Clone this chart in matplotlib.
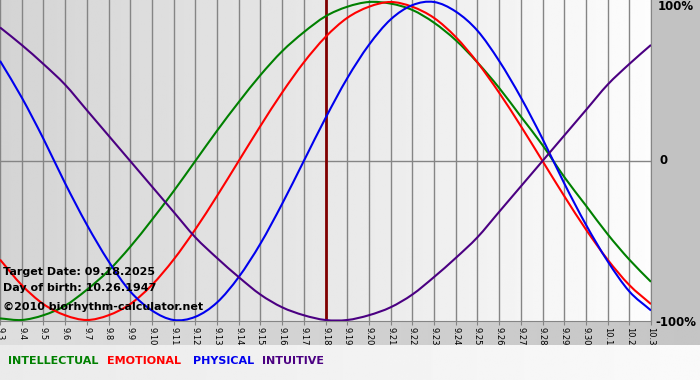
import matplotlib.pyplot as plt
import numpy as np
from matplotlib.path import Path
from matplotlib.patches import PathPatch

dates = ['9.3', '9.4', '9.5', '9.6', '9.7', '9.8', '9.9', '9.10', '9.11', '9.12',
         '9.13', '9.14', '9.15', '9.16', '9.17', '9.18', '9.19', '9.20', '9.21',
         '9.22', '9.23', '9.24', '9.25', '9.26', '9.27', '9.28', '9.29', '9.30',
         '10.1', '10.2', '10.3']
target_index = 15

intellectual = [-0.99, -1.00, -0.97, -0.91, -0.81, -0.69, -0.54, -0.37, -0.19, 0.00,
                0.19, 0.37, 0.54, 0.69, 0.81, 0.91, 0.97, 1.00, 0.99, 0.95, 0.87,
                0.76, 0.62, 0.46, 0.28, 0.10, -0.10, -0.28, -0.46, -0.62, -0.76]
emotional = [-0.62, -0.78, -0.90, -0.97, -1.00, -0.97, -0.90, -0.78, -0.62, -0.43,
             -0.22, 0.00, 0.22, 0.43, 0.62, 0.78, 0.90, 0.97, 1.00, 0.97, 0.90,
             0.78, 0.62, 0.43, 0.22, 0.00, -0.22, -0.43, -0.62, -0.78, -0.90]
physical = [0.63, 0.40, 0.14, -0.14, -0.40, -0.63, -0.82, -0.94, -1.00, -0.98, -0.89,
            -0.73, -0.52, -0.27, 0.00, 0.27, 0.52, 0.73, 0.89, 0.98, 1.00, 0.94,
            0.82, 0.63, 0.40, 0.14, -0.14, -0.40, -0.63, -0.82, -0.94]
intuitive = [0.84, 0.73, 0.61, 0.48, 0.32, 0.16, 0.00, -0.16, -0.32, -0.48, -0.61,
             -0.73, -0.84, -0.92, -0.97, -1.00, -1.00, -0.97, -0.92, -0.84, -0.73,
             -0.61, -0.48, -0.32, -0.16, 0.00, 0.16, 0.32, 0.48, 0.61, 0.73]

series = [('INTELLECTUAL', intellectual, '#008000'),
          ('EMOTIONAL', emotional, '#ff0000'),
          ('PHYSICAL', physical, '#0000ee'),
          ('INTUITIVE', intuitive, '#4b0082')]


def smooth_path(xs, ys):
    # bezier path through the daily points (catmull-rom tangents)
    p = np.column_stack([xs, ys]).astype(float)
    m = np.zeros_like(p)
    m[1:-1] = (p[2:] - p[:-2]) / 2
    m[0] = p[1] - p[0]
    m[-1] = p[-1] - p[-2]
    verts = [p[0]]
    codes = [Path.MOVETO]
    for i in range(len(p) - 1):
        verts += [p[i] + m[i] / 3, p[i + 1] - m[i + 1] / 3, p[i + 1]]
        codes += [Path.CURVE4] * 3
    return Path(verts, codes)


W, H = 700, 380
fig = plt.figure(figsize=(W / 100, H / 100), dpi=100)
fig.patch.set_facecolor('#c2c2c2')

# background bands below the plot
band = fig.add_axes([0, 0, 1, 59 / H], zorder=-2)
grad = np.linspace(0, 1, 256)
top = np.vstack([np.interp(grad, [0, 1], [0.87, 0.77])] * 2)
bot = np.vstack([np.interp(grad, [0, 1], [0.92, 0.98])] * 2)
band.imshow(top, cmap='gray', vmin=0, vmax=1, aspect='auto',
            extent=[0, 1, 35 / 59, 1])
band.imshow(bot, cmap='gray', vmin=0, vmax=1, aspect='auto',
            extent=[0, 1, 0, 35 / 59])
band.set_xlim(0, 1)
band.set_ylim(0, 1)
band.axis('off')

ax = fig.add_axes([0, 59 / H, 651 / W, 321 / H])
n = len(dates)
x = np.arange(n)
ax.set_xlim(0, n - 1)
ax.set_ylim(-1 - 1 / 159, 1 + 2 / 159)

g = np.vstack([np.linspace(0.83, 0.99, 256)] * 2)
ax.imshow(g, cmap='gray', vmin=0, vmax=1, aspect='auto',
          extent=[0, n - 1, -1.1, 1.1], zorder=0)

for xi in x:
    ax.axvline(xi, color='#858585', lw=1, zorder=1)
ax.axhline(0, color='#858585', lw=1, zorder=1)
ax.axvline(target_index, color='#800000', lw=2, zorder=1)

for name, vals, col in series:
    ax.add_patch(PathPatch(smooth_path(x, vals), facecolor='none',
                           edgecolor=col, lw=1.5, zorder=3))

ax.set_xticks(x)
ax.set_xticklabels(dates, rotation=270, fontsize=6)
ax.tick_params(axis='x', length=3, color='#858585', pad=1)
ax.set_yticks([])
for s in ['top', 'left']:
    ax.spines[s].set_visible(False)
ax.spines['bottom'].set_color('#858585')
ax.spines['right'].set_color('#858585')

ax.text(1.01, 1 - 7 / 321, '100%', transform=ax.transAxes, fontsize=8.5,
        fontweight='bold', va='center', ha='left')
ax.text(1.013, 0.5, '0', transform=ax.transAxes, fontsize=8.5,
        fontweight='bold', va='center', ha='left')
ax.text(1.006, -2 / 321, '-100%', transform=ax.transAxes, fontsize=8.5,
        fontweight='bold', va='center', ha='left')

info = ['Target Date: 09.18.2025', 'Day of birth: 10.26.1947',
        '\u00a92010 biorhythm-calculator.net']
ys = [272, 288, 307]
for t, yp in zip(info, ys):
    fig.text(3 / W, 1 - yp / H, t, fontsize=8, fontweight='bold',
             va='center', ha='left', zorder=5)

lx = [8, 107, 193, 262]
for (name, vals, col), xp in zip(series, lx):
    fig.text(xp / W, 1 - 361 / H, name, color=col, fontsize=8,
             fontweight='bold', va='center', ha='left')

fig.savefig('out.png', dpi=100, facecolor=fig.get_facecolor())
